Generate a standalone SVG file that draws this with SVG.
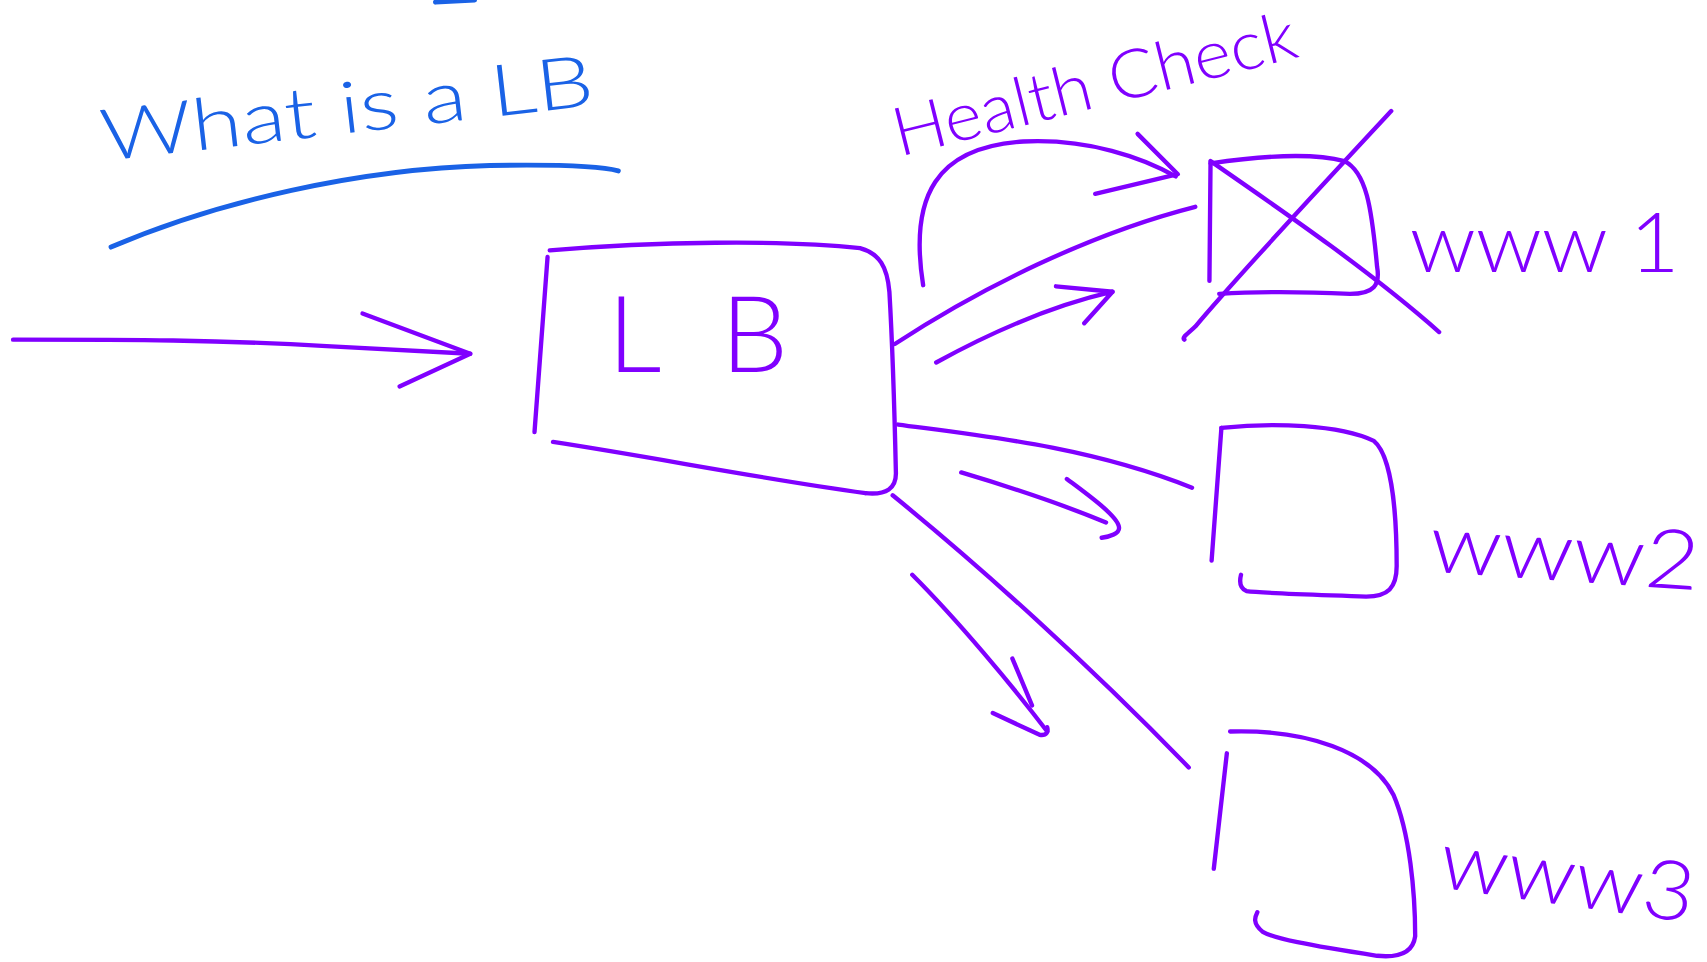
<svg xmlns="http://www.w3.org/2000/svg" width="1707" height="962" viewBox="0 0 1707 962">
<style>
.p{fill:none;stroke:#8000ff;stroke-width:4;stroke-linecap:round;stroke-linejoin:round}
.b{fill:none;stroke:#1a62e6;stroke-width:4.5;stroke-linecap:round;stroke-linejoin:round}
.tp{fill:#8000ff;font-family:Lato,"Liberation Sans",sans-serif;font-weight:300}
.tb{fill:#1a62e6;font-family:Lato,"Liberation Sans",sans-serif;font-weight:300}
</style>
<rect width="1707" height="962" fill="#ffffff"/>
<g transform="scale(1.0886)">
  <g id="title">
    <path class="b" d="M400,2 L436,0"/>
    <text class="tb" x="95" y="148" font-size="66" textLength="455" lengthAdjust="spacingAndGlyphs" transform="rotate(-6.5 95 148)">What is a LB</text>
    <path class="b" d="M102,227 C200,185 330,155 450,152 C510,151 550,152 568,157"/>
  </g>
  <g id="health-check-label">
    <text class="tp" x="826" y="144" font-size="62" textLength="380" lengthAdjust="spacingAndGlyphs" transform="rotate(-14 826 144)">Health Check</text>
  </g>
  <g id="lb">
    <path class="p" d="M505,230 C600,222 720,220 790,228 C808,233 815,245 817,268 C820,320 822,390 823,435 C823,448 815,455 795,453"/>
    <path class="p" d="M503,236 L491,397"/>
    <path class="p" d="M508,406 C600,420 700,440 795,453"/>
    <text class="tp" x="558" y="342" font-size="98" textLength="166" lengthAdjust="spacing">LB</text>
  </g>
  <g id="www1">
    <path class="p" d="M1112,150 C1160,143 1205,140 1235,148 C1255,158 1260,190 1265,245 C1268,262 1262,270 1240,270 C1200,268 1150,268 1120,270"/>
    <path class="p" d="M1112,150 L1111,258"/>
    <path class="p" d="M1112,148 C1180,195 1260,250 1322,305"/>
    <path class="p" d="M1278,102 C1210,175 1140,250 1098,300 C1092,306 1085,310 1088,312"/>
    <text class="tp" x="1295" y="250" font-size="76" textLength="248" lengthAdjust="spacingAndGlyphs">www 1</text>
  </g>
  <g id="www2">
    <path class="p" d="M1122,393 C1170,388 1230,390 1262,405 C1280,420 1283,480 1283,520 C1283,540 1275,548 1255,548 C1200,546 1160,545 1145,543 C1138,540 1139,532 1140,528"/>
    <path class="p" d="M1122,393 L1113,515"/>
    <text class="tp" x="1312" y="525" font-size="76" textLength="248" lengthAdjust="spacingAndGlyphs" transform="rotate(4 1312 525)">www2</text>
  </g>
  <g id="www3">
    <path class="p" d="M1130,672 C1200,670 1260,690 1280,730 C1295,765 1300,820 1300,860 C1298,875 1285,880 1265,878 C1200,868 1170,862 1160,856 C1150,848 1153,842 1155,838"/>
    <path class="p" d="M1127,692 L1115,798"/>
    <text class="tp" x="1320" y="815" font-size="76" textLength="235" lengthAdjust="spacingAndGlyphs" transform="rotate(8 1320 815)">www3</text>
  </g>
  <g id="connectors">
    <path class="p" d="M12,312 C120,312 200,312 300,318 C360,321 400,323 432,325"/>
    <path class="p" d="M333,288 L432,325 L367,355"/>
    <path class="p" d="M848,262 C835,180 860,135 940,130 C1000,127 1050,145 1080,162"/>
    <path class="p" d="M1045,123 L1082,160 L1006,178"/>
    <path class="p" d="M822,316 C900,265 1000,215 1098,190"/>
    <path class="p" d="M860,333 C920,300 970,280 1022,268 L996,297"/>
    <path class="p" d="M970,263 L1022,268"/>
    <path class="p" d="M825,390 C900,400 1000,410 1095,448"/>
    <path class="p" d="M883,434 C930,448 980,465 1016,480"/>
    <path class="p" d="M980,440 C1000,455 1028,475 1028,485 C1028,490 1020,493 1012,494"/>
    <path class="p" d="M820,455 C900,520 1000,610 1092,705"/>
    <path class="p" d="M838,528 C880,570 930,630 962,672"/>
    <path class="p" d="M930,605 L948,648"/>
    <path class="p" d="M912,655 L955,675 C962,676 963,672 962,668"/>
  </g>
</g>
</svg>
